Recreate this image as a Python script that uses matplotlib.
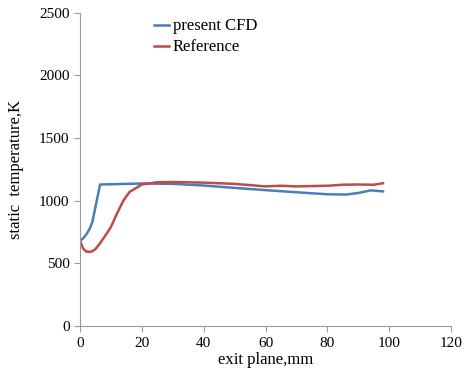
import matplotlib
matplotlib.use("Agg")
import matplotlib.pyplot as plt

plt.rcParams["font.family"] = ["Liberation Serif", "DejaVu Serif"]

# present CFD
cfd_x = [0, 1, 2, 3, 4, 5, 6.5, 10, 20, 30, 40, 50, 60, 70, 80, 86, 90, 94, 98]
cfd_y = [680, 700, 730, 770, 830, 950, 1130, 1132, 1138, 1135, 1122, 1103, 1085, 1068, 1052, 1050, 1062, 1083, 1075]

# reference
ref_x = [0, 1, 2, 3, 4, 5, 6, 8, 10, 12, 14, 16, 18, 20, 25, 30, 40, 50, 60, 65, 70, 80, 85, 90, 95, 98]
ref_y = [680, 620, 595, 592, 598, 615, 645, 715, 790, 900, 1000, 1070, 1100, 1130, 1148, 1150, 1145, 1135, 1115, 1120, 1115, 1120, 1128, 1130, 1128, 1140]

fig = plt.figure(figsize=(4.65, 3.77), dpi=100)
ax = fig.add_axes([0.172, 0.135, 0.798, 0.831])

ax.plot(cfd_x, cfd_y, color="#4a7ebb", lw=1.8, label="present CFD")
ax.plot(ref_x, ref_y, color="#be4b48", lw=1.8, label="Reference")

ax.set_xlim(0, 120)
ax.set_ylim(0, 2500)
ax.set_xticks(range(0, 121, 20))
ax.set_yticks(range(0, 2501, 500))
for s in ["top", "right"]:
    ax.spines[s].set_visible(False)
for s in ["left", "bottom"]:
    ax.spines[s].set_color("#999999")
ax.tick_params(colors="#999999", labelcolor="black", labelsize=11, length=4, direction="out")

ax.set_xlabel("exit plane,mm", fontsize=12, labelpad=2)
ax.set_ylabel("static  temperature,K", fontsize=12, labelpad=11)

ax.legend(loc="upper left", bbox_to_anchor=(0.16, 1.03), frameon=False,
          fontsize=12, handlelength=0.9, handletextpad=0.2, labelspacing=0.3)

fig.savefig("out.png", dpi=100)
